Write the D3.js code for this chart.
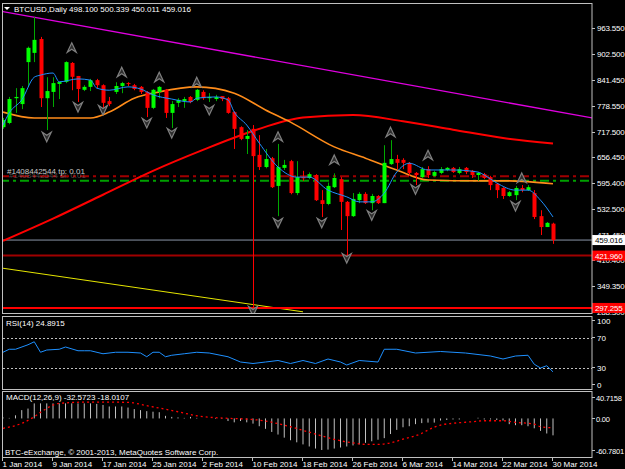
<!DOCTYPE html>
<html>
<head>
<meta charset="utf-8">
<script src="https://cdn.jsdelivr.net/npm/d3@7.9.0/dist/d3.min.js"></script>
<style>
  body { margin: 0; background: #000; }
  svg { display: block; font-family: "Liberation Sans", Arial, sans-serif; font-size: 8px; }
</style>
</head>
<body>
<svg id="chart" width="625" height="469"></svg>
<script>
// ---- data (bar 0 = 1 Jan 2014, bar 88 = 30 Mar 2014) ----
const dateLabels = ['1 Jan 2014', '9 Jan 2014', '17 Jan 2014', '25 Jan 2014', '2 Feb 2014', '10 Feb 2014',
  '18 Feb 2014', '26 Feb 2014', '6 Mar 2014', '14 Mar 2014', '22 Mar 2014', '30 Mar 2014'];
const dateBars = [0, 8, 16, 24, 32, 40, 48, 56, 64, 72, 80, 88];

const opens = [728, 738, 797, 783, 883, 905, 938, 797, 812, 831, 836, 881, 850, 817, 824, 840, 828, 790, 812, 826,
  833, 828, 824, 812, 774, 812, 817, 762, 786, 790, 800, 793, 812, 797, 795, 802, 797, 764, 728, 700,
  724, 662, 633, 654, 588, 631, 647, 571, 609, 607, 614, 554, 545, 585, 604, 550, 516, 554, 569, 547,
  564, 547, 640, 652, 650, 643, 619, 609, 628, 612, 619, 626, 631, 619, 631, 624, 614, 616, 609, 593,
  583, 564, 566, 583, 578, 571, 516, 490, 498.1];
const highs = [750, 800, 821, 826, 920, 990, 943, 847, 847, 836, 885, 883, 850, 828, 843, 843, 830, 800, 835, 836,
  835, 831, 826, 814, 819, 826, 819, 790, 797, 800, 802, 819, 816, 809, 805, 802, 800, 766, 730, 721,
  733, 709, 676, 657, 688, 650, 650, 647, 624, 620, 616, 578, 596, 618, 609, 552, 571, 573, 573, 569,
  566, 685, 697, 662, 654, 645, 621, 633, 635, 624, 633, 633, 633, 633, 633, 626, 621, 619, 612, 595,
  585, 576, 588, 590, 590, 578, 530, 502, 500.339];
const lows = [724, 735, 762, 771, 823, 883, 776, 721, 776, 795, 833, 816, 788, 814, 814, 821, 774, 778, 807, 809,
  826, 816, 807, 752, 771, 797, 750, 726, 776, 774, 785, 790, 793, 788, 790, 790, 760, 676, 697, 664,
  297.255, 626, 630, 583, 516, 626, 568, 566, 600, 604, 552, 514, 542, 583, 483, 421.96, 514, 547, 545, 530,
  545, 547, 638, 628, 628, 612, 590, 607, 607, 609, 616, 623, 619, 616, 616, 607, 600, 604, 578, 559,
  557, 562, 554, 573, 576, 509, 471, 490, 450.011];
const closes = [745, 795, 800, 821, 917, 936, 797, 814, 833, 836, 883, 848, 819, 824, 840, 828, 786, 783, 826, 833,
  831, 819, 812, 774, 817, 824, 762, 783, 793, 795, 788, 817, 797, 800, 800, 795, 762, 724, 700, 707,
  659, 633, 652, 585, 633, 638, 571, 609, 606, 616, 554, 545, 588, 607, 550, 516, 557, 569, 547, 564,
  547, 643, 652, 643, 643, 619, 614, 628, 614, 621, 628, 631, 621, 628, 621, 614, 619, 607, 590, 578,
  564, 573, 583, 578, 585, 514, 490, 500, 459.016];

// moving averages (bar, price)
const fastMaBars = [0, 1, 3, 5, 6, 8, 9, 12, 14, 15, 17, 20, 22, 24, 27, 30, 31, 34, 36, 37, 39, 41, 44, 47, 49,
  52, 55, 57, 59, 61, 63, 65, 68, 72, 76, 77, 79, 82, 84, 86, 88];
const fastMaValues = [733, 762, 793, 847, 852, 857, 836, 843, 840, 821, 816, 824, 819, 805, 795, 788, 797, 800, 793,
  764, 733, 690, 633, 609, 609, 578, 562, 550, 550, 571, 621, 642, 626, 626, 621, 614, 595, 578, 578, 554, 514];
const midMaBars = [0, 5, 10, 14, 17, 21, 25, 31, 37, 42, 46, 53, 58, 63, 68, 76, 81, 88];
const midMaValues = [764, 750, 750, 750, 764, 797, 812, 824, 809, 769, 740, 681, 654, 626, 602, 600, 600, 593];
const slowMaBars = [0, 8, 16, 24, 32, 40, 48, 56, 64, 72, 80, 88];
const slowMaValues = [457, 510, 567, 624, 674, 719, 751, 757, 742, 722, 702, 689];

// trend lines (bar, price at both ends)
const magentaLine = [[-1, 1006], [95, 748]];
const yellowLine = [[-1, 394], [48, 288]];

// fractal markers
const upMarkBars = [11, 19, 25, 31, 44, 53, 62, 68, 83];
const upMarkPrices = [917, 859, 847, 835, 705, 650, 716, 661, 607];
const downMarkBars = [7, 12, 16, 23, 27, 33, 40, 44, 51, 55, 59, 66, 82];
const downMarkPrices = [705, 776, 769, 738, 714, 769, 290, 500, 500, 416, 518, 580, 540];

// price scale
const priceTicks = [963.55, 902.5, 841.45, 778.55, 717.5, 656.45, 595.4, 532.5, 471.45, 410.4, 349.35, 288.3];
const priceMin = 288.3, priceMax = 963.55;

// order levels
const tpLevel = 610.8, slLevel = 600.4;
const bidLevel = 459.016, level2 = 421.96, level3 = 297.255;

// RSI(14), sampled per bar
const rsiBars = [0, 1, 2, 4, 5, 6, 7, 9, 10, 12, 13, 14, 16, 18, 20, 22, 23, 24, 25, 26, 27, 29, 31, 33, 36, 38,
  40, 42, 44, 46, 48, 50, 52, 54, 55, 57, 60, 61, 63, 66, 70, 74, 78, 80, 82, 84, 85, 86, 87, 88];
const rsiValues = [51, 55, 55, 61, 65, 51, 54, 55, 58, 53, 53, 53, 49, 51, 51, 50, 45, 51, 51, 45, 47, 49, 51, 50,
  45, 38, 36, 38, 40, 36, 40, 36, 42, 38, 34, 40, 38, 55, 55, 50, 52, 50, 46, 42, 46, 47, 35, 30, 33, 24.8915];

// MACD(12,26,9): histogram per bar and signal line samples
const macdValues = [2, 1, 6, 16, 19, 29, 29, 29, 29, 29, 29, 29, 29, 29, 29, 28, 26, 23, 23, 23,
  21, 18, 16, 14, 13, 12, 5, 3, 2, 1, 3, 1, 0, 0, -1, -1, -5, -7.5, -5, -7.5,
  -10, -15, -20, -26, -31, -37, -42, -46, -50, -54, -58, -60.78, -60, -58, -56, -54, -52, -50, -47, -44,
  -41, -38, -30, -22, -17, -15, -11, -9, -8, -8, -4, -3, -2, -2, 0, 0, 1.3, -2, -2, -3,
  -4, -11, -13, -13, -15, -19, -24, -29, -32.5723];
const signalBars = [0, 3, 5, 6, 9, 14, 20, 23, 28, 31, 36, 39, 42, 44, 46, 48, 50, 52, 54, 56, 58, 60, 62, 64,
  67, 68, 70, 72, 75, 77, 80, 82, 85, 86, 88];
const signalValues = [-19, -9.4, 3.3, 11.7, 29, 31.6, 31, 24.5, 12.9, 5.2, 0.2, -1.2, -5, -10, -16, -23, -30, -37,
  -43, -47, -50, -50, -47, -40, -28.7, -22.3, -12.7, -9.4, -6.4, -4.4, -4.4, -7.5, -10.8, -16, -18.0107];
const macdMin = -60.7801, macdMax = 40.7158;

// ---- layout ----
const svg = d3.select('#chart');
const plotLeft = 3, plotRight = 592;

svg.append('rect').attr('width', 625).attr('height', 469).attr('fill', '#000');

const x = d3.scaleLinear().domain([0, 88]).range([3, 553]);
const y = d3.scaleLinear().domain([priceMin, priceMax]).range([311.7, 28.3]);
const yRsi = d3.scaleLinear().domain([0, 100]).range([390.5, 315.5]);
const yMacd = d3.scaleLinear().domain([macdMin, macdMax]).range([450, 397.3]);

const defs = svg.append('defs');
defs.append('clipPath').attr('id', 'clipMain').append('rect')
  .attr('x', plotLeft).attr('y', 3).attr('width', plotRight - plotLeft).attr('height', 310);
defs.append('clipPath').attr('id', 'clipRsi').append('rect')
  .attr('x', plotLeft).attr('y', 317).attr('width', plotRight - plotLeft).attr('height', 72);
defs.append('clipPath').attr('id', 'clipMacd').append('rect')
  .attr('x', plotLeft).attr('y', 392).attr('width', plotRight - plotLeft).attr('height', 65);

// ---- main panel ----
const main = svg.append('g').attr('clip-path', 'url(#clipMain)');

// yellow and magenta trend lines
const trend = d3.line().x((d) => x(d[0])).y((d) => y(d[1]));
main.append('path').attr('d', trend(yellowLine)).attr('stroke', '#e6e600').attr('stroke-width', 1).attr('fill', 'none');
main.append('path').attr('d', trend(magentaLine)).attr('stroke', '#e000e0').attr('stroke-width', 1.3).attr('fill', 'none');

// horizontal levels
main.append('line').attr('x1', 0).attr('x2', plotRight).attr('y1', y(bidLevel)).attr('y2', y(bidLevel))
  .attr('stroke', '#8a95a8').attr('stroke-width', 1);
main.append('line').attr('x1', 0).attr('x2', plotRight).attr('y1', y(level2)).attr('y2', y(level2))
  .attr('stroke', '#a00000').attr('stroke-width', 2);
main.append('line').attr('x1', 0).attr('x2', plotRight).attr('y1', y(level3)).attr('y2', y(level3))
  .attr('stroke', '#ff0000').attr('stroke-width', 2);
main.append('line').attr('x1', 0).attr('x2', plotRight).attr('y1', y(tpLevel)).attr('y2', y(tpLevel))
  .attr('stroke', '#a00000').attr('stroke-width', 2).attr('stroke-dasharray', '9,4,3,4');
main.append('line').attr('x1', 0).attr('x2', plotRight).attr('y1', y(slLevel)).attr('y2', y(slLevel))
  .attr('stroke', '#00a000').attr('stroke-width', 2).attr('stroke-dasharray', '9,4,3,4');

main.append('text').attr('x', 7).attr('y', y(tpLevel) - 2).attr('fill', '#c8c8c8').text('#1408442544 tp: 0.01');
main.append('text').attr('x', 9).attr('y', y(tpLevel) + 2).attr('fill', '#909090').attr('opacity', 0.5).text('#1408442544 sl: 0.01');

// moving averages
const maLine = d3.line().curve(d3.curveMonotoneX).x((d) => x(d[0])).y((d) => y(d[1]));
main.append('path').attr('d', maLine(d3.zip(slowMaBars, slowMaValues)))
  .attr('stroke', '#ff0000').attr('stroke-width', 2).attr('fill', 'none');
main.append('path').attr('d', maLine(d3.zip(midMaBars, midMaValues)))
  .attr('stroke', '#ff8c1a').attr('stroke-width', 1.6).attr('fill', 'none');

// candles
const candles = d3.range(opens.length).map((i) => ({ i, o: opens[i], h: highs[i], l: lows[i], c: closes[i] }));
const cg = main.append('g').selectAll('g').data(candles).join('g');
cg.append('line')
  .attr('x1', (d) => Math.round(x(d.i)) + 0.5).attr('x2', (d) => Math.round(x(d.i)) + 0.5)
  .attr('y1', (d) => y(d.h)).attr('y2', (d) => y(d.l))
  .attr('stroke', (d) => (d.c >= d.o ? '#00a800' : '#ff0000'));
cg.append('rect')
  .attr('x', (d) => Math.round(x(d.i)) - 1.5).attr('width', 4)
  .attr('y', (d) => y(Math.max(d.o, d.c)))
  .attr('height', (d) => Math.max(1, Math.abs(y(d.o) - y(d.c))))
  .attr('fill', (d) => (d.c >= d.o ? '#00ff00' : '#ff0000'));

main.append('path').attr('d', maLine(d3.zip(fastMaBars, fastMaValues)))
  .attr('stroke', '#1e90ff').attr('stroke-width', 1).attr('fill', 'none');

// fractal markers
const upShape = 'M0,-5L4.5,4.5L0,1.5L-4.5,4.5Z';
const downShape = 'M0,5L4.5,-4.5L0,-1.5L-4.5,-4.5Z';
main.selectAll('.up').data(d3.zip(upMarkBars, upMarkPrices)).join('path')
  .attr('transform', (d) => `translate(${x(d[0])},${y(d[1])})`)
  .attr('d', upShape).attr('fill', '#2e2e2e').attr('stroke', '#808080').attr('stroke-width', 1.2);
main.selectAll('.down').data(d3.zip(downMarkBars, downMarkPrices)).join('path')
  .attr('transform', (d) => `translate(${x(d[0])},${y(d[1])})`)
  .attr('d', downShape).attr('fill', '#2e2e2e').attr('stroke', '#808080').attr('stroke-width', 1.2);

// header
svg.append('path').attr('d', 'M4,7L10,7L7,10Z').attr('fill', '#fff');
svg.append('text').attr('x', 14).attr('y', 12).attr('fill', '#fff')
  .text(`BTCUSD,Daily  ${opens[88].toFixed(3)} ${highs[88].toFixed(3)} ${lows[88].toFixed(3)} ${closes[88].toFixed(3)}`);

// price axis
const priceAxis = svg.append('g').attr('letter-spacing', -0.2);
priceTicks.forEach((t) => {
  priceAxis.append('line').attr('x1', plotRight).attr('x2', plotRight + 3).attr('y1', Math.round(y(t)) + 0.5)
    .attr('y2', Math.round(y(t)) + 0.5).attr('stroke', '#c0c0c0');
  priceAxis.append('text').attr('x', 597).attr('y', y(t) + 3).attr('fill', '#fff').text(t.toFixed(3));
});

// level boxes
[[bidLevel, '#ffffff', '#000'], [level2, '#ff0000', '#fff'], [level3, '#ff0000', '#fff']].forEach(([v, bg, fg]) => {
  svg.append('rect').attr('x', 592).attr('y', y(v) - 5).attr('width', 33).attr('height', 10).attr('fill', bg);
  svg.append('text').attr('x', 595).attr('y', y(v) + 3).attr('fill', fg).attr('letter-spacing', -0.2).text(v.toFixed(3));
});

// ---- RSI panel ----
const rsi = svg.append('g').attr('clip-path', 'url(#clipRsi)');
[70, 30].forEach((lv) => {
  rsi.append('line').attr('x1', plotLeft).attr('x2', plotRight).attr('y1', Math.round(yRsi(lv)) + 0.5)
    .attr('y2', Math.round(yRsi(lv)) + 0.5).attr('stroke', '#c0c0c0').attr('stroke-dasharray', '2,2');
});
rsi.append('path')
  .attr('d', d3.line().x((d) => x(d[0])).y((d) => yRsi(d[1]))(d3.zip(rsiBars, rsiValues)))
  .attr('stroke', '#1e90ff').attr('fill', 'none');
svg.append('text').attr('x', 6).attr('y', 326).attr('fill', '#fff').text(`RSI(14) ${rsiValues[rsiValues.length - 1].toFixed(4)}`);
[[100, 324], [70, 341], [30, 371], [0, 388]].forEach(([v, ty]) => {
  svg.append('line').attr('x1', plotRight).attr('x2', plotRight + 3).attr('y1', ty - 3.5).attr('y2', ty - 3.5).attr('stroke', '#c0c0c0');
  svg.append('text').attr('x', 597).attr('y', ty).attr('fill', '#fff').text(v);
});

// ---- MACD panel ----
const macd = svg.append('g').attr('clip-path', 'url(#clipMacd)');
macd.selectAll('line').data(macdValues).join('line')
  .attr('x1', (d, i) => x(i)).attr('x2', (d, i) => x(i))
  .attr('y1', yMacd(0)).attr('y2', (d) => yMacd(d))
  .attr('stroke', '#c0c0c0').attr('stroke-width', 1);
macd.append('path')
  .attr('d', d3.line().curve(d3.curveMonotoneX).x((d) => x(d[0])).y((d) => yMacd(d[1]))(d3.zip(signalBars, signalValues)))
  .attr('stroke', '#ff0000').attr('stroke-width', 1.3).attr('stroke-dasharray', '2,3').attr('fill', 'none');
svg.append('text').attr('x', 6).attr('y', 400).attr('fill', '#fff')
  .text(`MACD(12,26,9) ${macdValues[macdValues.length - 1].toFixed(4)} ${signalValues[signalValues.length - 1].toFixed(4)}`);
[macdMax, 0, macdMin].forEach((v) => {
  const ty = Math.round(yMacd(v)) + 0.5;
  svg.append('line').attr('x1', plotRight).attr('x2', plotRight + 3).attr('y1', ty).attr('y2', ty).attr('stroke', '#c0c0c0');
  svg.append('text').attr('x', 596).attr('y', ty + 3).attr('fill', '#fff').attr('font-size', 7.5)
    .attr('letter-spacing', -0.2).text(v === 0 ? '0.00' : v.toFixed(4));
});
svg.append('text').attr('x', 5).attr('y', 455).attr('fill', '#fff').text('BTC-eExchange, © 2001-2013, MetaQuotes Software Corp.');

// ---- frames ----
[[3, 313], [316, 389], [391, 457]].forEach(([t, b]) => {
  svg.append('rect').attr('x', 2.5).attr('y', t + 0.5).attr('width', plotRight - 2.5).attr('height', b - t)
    .attr('fill', 'none').attr('stroke', '#c0c0c0');
});

// ---- date axis ----
dateBars.forEach((b, k) => {
  const tx = Math.round(x(b)) - 0.5;
  svg.append('line').attr('x1', tx).attr('x2', tx).attr('y1', 458).attr('y2', 461).attr('stroke', '#c0c0c0');
  svg.append('text').attr('x', tx).attr('y', 467).attr('fill', '#fff').text(dateLabels[k]);
});
</script>
</body>
</html>
